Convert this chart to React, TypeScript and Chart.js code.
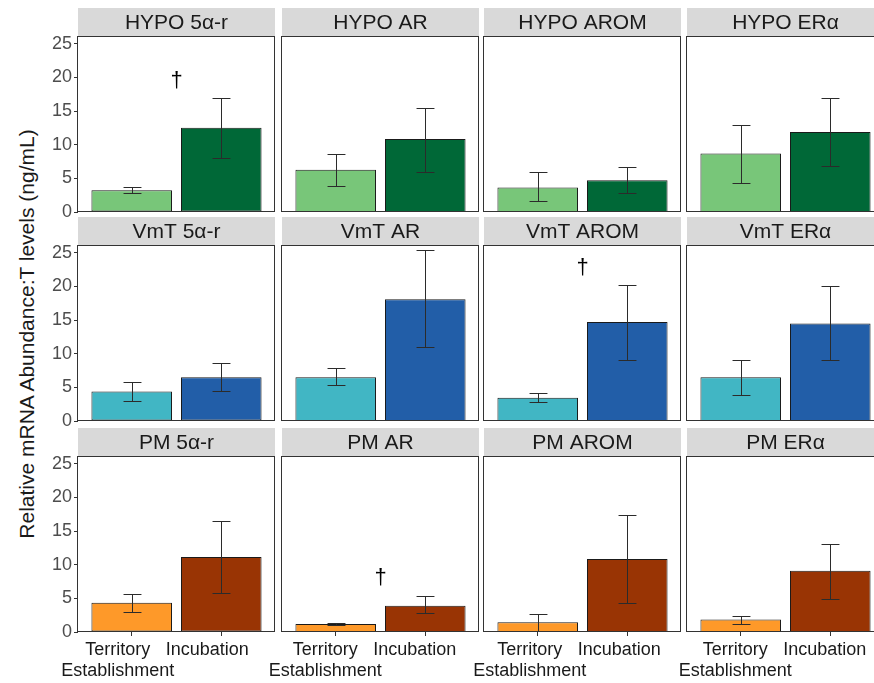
import React, { useEffect, useRef } from 'react';
import { Chart, registerables } from 'chart.js';

Chart.register(...registerables);

const regions = ['HYPO', 'VmT', 'PM'];
const genes = ['5α-r', 'AR', 'AROM', 'ERα'];
const stages: string[][] = [['Territory', 'Establishment'], ['Incubation']];
const yTicks = [0, 5, 10, 15, 20, 25];
const yMax = 26;
const yTitle = 'Relative mRNA Abundance:T levels (ng/mL)';

// mean values, per gene (5α-r, AR, AROM, ERα)
const hypoTerritory = [3.25, 6.27, 3.65, 8.7];
const hypoIncubation = [12.5, 10.86, 4.7, 11.9];
const hypoTerritoryErr = [[2.85, 3.65], [3.9, 8.58], [1.6, 5.9], [4.35, 13.0]];
const hypoIncubationErr = [[8.0, 16.9], [6.0, 15.5], [2.75, 6.75], [6.85, 17.0]];

const vmtTerritory = [4.4, 6.5, 3.45, 6.5];
const vmtIncubation = [6.5, 18.1, 14.7, 14.5];
const vmtTerritoryErr = [[2.95, 5.85], [5.35, 7.85], [2.85, 4.15], [3.9, 9.1]];
const vmtIncubationErr = [[4.4, 8.65], [11.0, 25.35], [9.0, 20.2], [9.1, 20.0]];

const pmTerritory = [4.36, 1.2, 1.45, 1.85];
const pmIncubation = [11.15, 3.9, 10.85, 9.1];
const pmTerritoryErr = [[2.9, 5.65], [1.1, 1.3], [-0.4, 2.7], [1.25, 2.45]];
const pmIncubationErr = [[5.8, 16.55], [2.8, 5.3], [4.36, 17.4], [4.95, 13.1]];

// significance markers (†): region index, gene index, y value
const daggerRegion = [0, 1, 2];
const daggerGene = [0, 2, 1];
const daggerY = [19.4, 22.75, 7.96];

const territoryByRegion = [hypoTerritory, vmtTerritory, pmTerritory];
const incubationByRegion = [hypoIncubation, vmtIncubation, pmIncubation];
const territoryErrByRegion = [hypoTerritoryErr, vmtTerritoryErr, pmTerritoryErr];
const incubationErrByRegion = [hypoIncubationErr, vmtIncubationErr, pmIncubationErr];

const lightColors = ['#78C679', '#41B6C4', '#FE9929'];
const darkColors = ['#006837', '#225EA8', '#993404'];

const FONT = '"Liberation Sans", Arial, Helvetica, sans-serif';

// layout geometry (page pixels)
const colLefts = [78, 282, 484, 687];
const rowTops = [37, 246, 457];
const panelW = 197;
const panelH = 175;
const stripH = 28;
const labelOffsets = [-14, -10.5, -8, -5.5];

function geom(r: number, c: number) {
  const extraL = c === 0 ? 70 : 30;
  const bottom = r === 2 ? 51 : 12;
  return {
    extraL,
    bottom,
    x: colLefts[c] - extraL,
    y: rowTops[r] - stripH - 1,
    w: extraL + panelW + 2,
    h: stripH + 1 + panelH + bottom,
  };
}

const panels = regions.flatMap((_, r) => genes.map((__, c) => ({ r, c })));

function makeChart(canvas: HTMLCanvasElement, r: number, c: number) {
  const g = geom(r, c);
  const terr = territoryByRegion[r][c];
  const inc = incubationByRegion[r][c];
  const errs = [territoryErrByRegion[r][c], incubationErrByRegion[r][c]];
  const title = `${regions[r]} ${genes[c]}`;

  const panelPlugin = {
    id: 'panelDecor',
    beforeDraw(chart: any) {
      const { ctx, chartArea } = chart;
      const left = Math.round(chartArea.left);
      const top = Math.round(chartArea.top);
      ctx.save();
      ctx.fillStyle = '#D9D9D9';
      ctx.fillRect(left, top - stripH - 1, panelW, stripH);
      ctx.fillStyle = '#1A1A1A';
      ctx.font = `21px ${FONT}`;
      ctx.textAlign = 'center';
      ctx.textBaseline = 'middle';
      ctx.fillText(title, left + panelW / 2, top - 1 - stripH / 2 + 1);
      ctx.restore();
    },
    afterDatasetsDraw(chart: any) {
      const { ctx, scales, chartArea } = chart;
      const xs = scales.x;
      const ys = scales.y;
      ctx.save();
      ctx.beginPath();
      ctx.rect(chartArea.left, chartArea.top, chartArea.right - chartArea.left, chartArea.bottom - chartArea.top);
      ctx.clip();
      ctx.strokeStyle = '#2B2B2B';
      ctx.lineWidth = 1;
      errs.forEach((e, i) => {
        const cx = Math.round(xs.getPixelForValue(i + 1)) + 0.5;
        const half = xs.getPixelForValue(i + 1.1) - xs.getPixelForValue(i + 1);
        const yLo = Math.round(ys.getPixelForValue(e[0])) + 0.5;
        const yHi = Math.round(ys.getPixelForValue(e[1])) + 0.5;
        ctx.beginPath();
        ctx.moveTo(cx, yLo);
        ctx.lineTo(cx, yHi);
        ctx.moveTo(cx - half, yHi);
        ctx.lineTo(cx + half, yHi);
        ctx.moveTo(cx - half, yLo);
        ctx.lineTo(cx + half, yLo);
        ctx.stroke();
      });
      daggerRegion.forEach((dr, k) => {
        if (dr === r && daggerGene[k] === c) {
          ctx.fillStyle = '#000000';
          ctx.font = `22px ${FONT}`;
          ctx.textAlign = 'center';
          ctx.textBaseline = 'middle';
          ctx.fillText('†', xs.getPixelForValue(1.5), ys.getPixelForValue(daggerY[k]));
        }
      });
      ctx.restore();
    },
    afterDraw(chart: any) {
      const { ctx, chartArea } = chart;
      const left = Math.round(chartArea.left);
      const top = Math.round(chartArea.top);
      ctx.save();
      ctx.strokeStyle = '#333333';
      ctx.lineWidth = 1;
      ctx.strokeRect(left - 0.5, top - 0.5, panelW, panelH);
      ctx.restore();
    },
  };

  const xScale: any = {
    type: 'linear',
    min: 0.4,
    max: 2.6,
    offset: false,
    display: r === 2,
    afterBuildTicks: (a: any) => {
      a.ticks = [{ value: 1 }, { value: 2 }];
    },
    ticks: {
      callback: (v: number) => stages[Math.round(v) - 1] ?? '',
      font: { family: FONT, size: 18, lineHeight: 1.2 },
      color: '#1A1A1A',
      padding: 3,
      labelOffset: labelOffsets[c],
      maxRotation: 0,
      minRotation: 0,
      autoSkip: false,
    },
    grid: { drawOnChartArea: false, drawTicks: true, tickLength: 4, color: '#333333', lineWidth: 1, offset: false },
    border: { display: false },
  };
  if (r === 2) {
    xScale.afterFit = (s: any) => {
      s.height = g.bottom;
      s.paddingLeft = 0;
      s.paddingRight = 0;
    };
  }

  const yScale: any = {
    type: 'linear',
    min: 0,
    max: yMax,
    display: c === 0,
    afterBuildTicks: (a: any) => {
      a.ticks = yTicks.map((v) => ({ value: v }));
    },
    ticks: {
      font: { family: FONT, size: 18 },
      color: '#4D4D4D',
      padding: 2,
    },
    grid: { drawOnChartArea: false, drawTicks: true, tickLength: 4, color: '#333333', lineWidth: 1 },
    border: { display: false },
  };
  if (c === 0) {
    yScale.afterFit = (s: any) => {
      s.width = g.extraL;
      s.paddingTop = 0;
      s.paddingBottom = 0;
    };
  }

  return new Chart(canvas, {
    type: 'bar',
    data: {
      datasets: [
        {
          data: [
            { x: 1, y: terr },
            { x: 2, y: inc },
          ],
          backgroundColor: [lightColors[r], darkColors[r]],
          borderColor: '#1A1A1A',
          borderWidth: 1,
          borderSkipped: false,
          barPercentage: 0.9,
          categoryPercentage: 1,
        } as any,
      ],
    },
    options: {
      responsive: false,
      animation: false,
      devicePixelRatio: 1,
      layout: {
        padding: {
          left: c === 0 ? 0 : g.extraL,
          right: 2,
          top: stripH + 1,
          bottom: r === 2 ? 0 : g.bottom,
        },
      },
      plugins: {
        legend: { display: false },
        tooltip: { enabled: false },
        title: { display: false },
      },
      scales: { x: xScale, y: yScale },
    } as any,
    plugins: [panelPlugin],
  });
}

export default function App() {
  const refs = useRef<(HTMLCanvasElement | null)[]>([]);

  useEffect(() => {
    const charts = panels.map(({ r, c }, i) => makeChart(refs.current[i] as HTMLCanvasElement, r, c));
    return () => charts.forEach((ch) => ch.destroy());
  }, []);

  return (
    <div
      style={{
        position: 'fixed',
        left: 0,
        top: 0,
        width: 874,
        height: 683,
        overflow: 'hidden',
        background: '#FFFFFF',
      }}
    >
      <div
        style={{
          position: 'absolute',
          left: 27,
          top: 334,
          transform: 'translate(-50%, -50%) rotate(-90deg)',
          whiteSpace: 'nowrap',
          font: `21px ${FONT}`,
          color: '#1A1A1A',
        }}
      >
        {yTitle}
      </div>
      {panels.map(({ r, c }, i) => {
        const g = geom(r, c);
        return (
          <canvas
            key={i}
            ref={(el) => {
              refs.current[i] = el;
            }}
            width={g.w}
            height={g.h}
            style={{ position: 'absolute', left: g.x, top: g.y, width: g.w, height: g.h }}
          />
        );
      })}
    </div>
  );
}
